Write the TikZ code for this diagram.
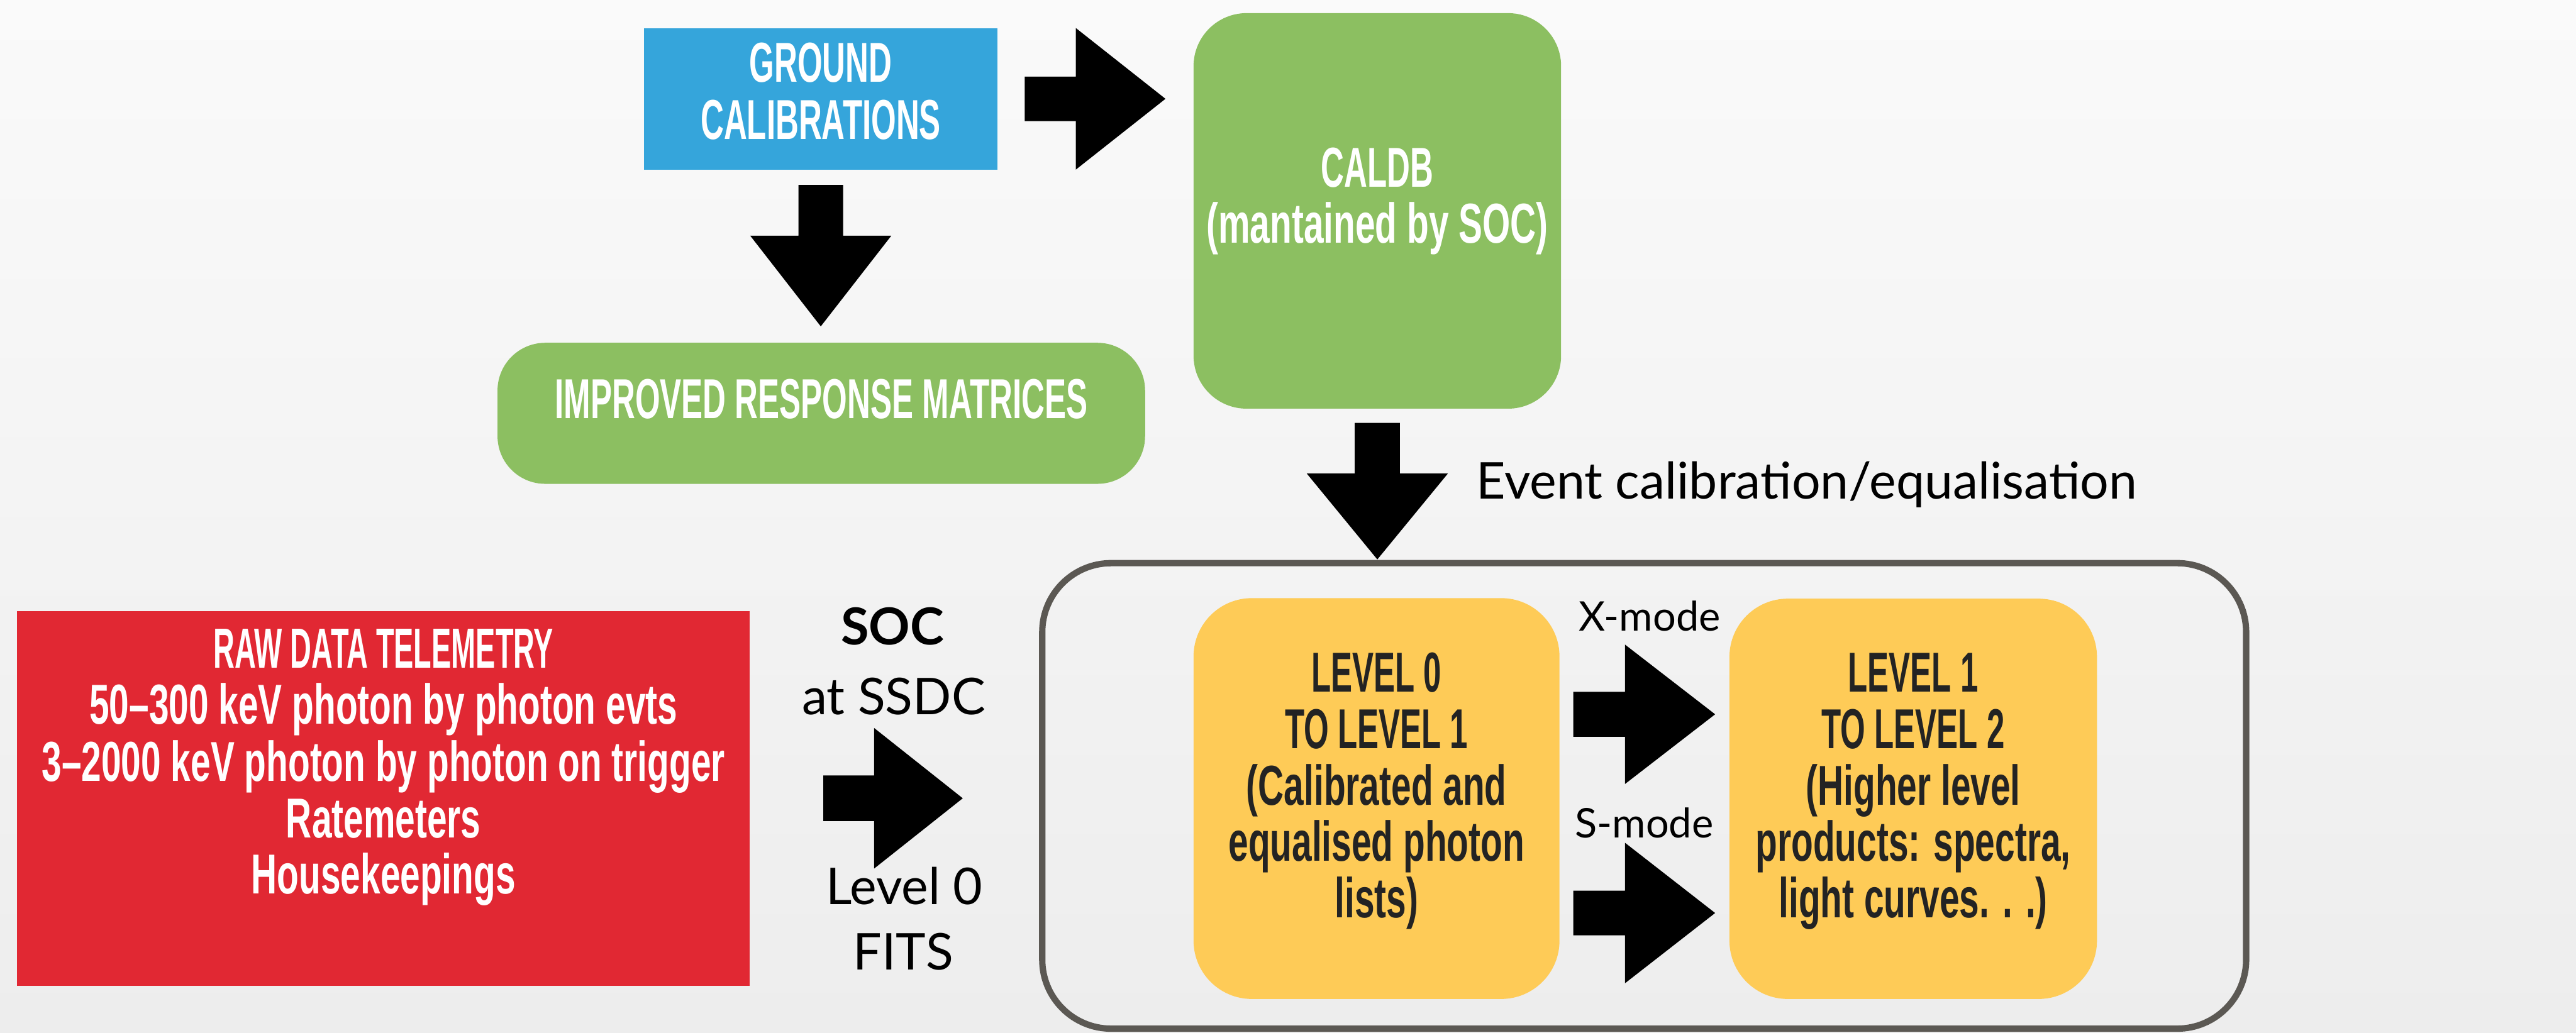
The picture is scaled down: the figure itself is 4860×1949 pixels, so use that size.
\documentclass[tikz,border=0pt]{standalone}
\usepackage{fontspec}
\usetikzlibrary{calc}
\newfontfamily\dinC{Liberation Sans}[FakeStretch=0.57]
\newfontfamily\dinW{Liberation Sans}[FakeStretch=0.52]
\newfontfamily\dinL{Liberation Sans}[FakeStretch=0.635]
\newfontfamily\lblfont{Lato}
\definecolor{bgtop}{HTML}{FAFAFA}
\definecolor{bgbot}{HTML}{EDEDED}
\definecolor{gcblue}{HTML}{35A5DB}
\definecolor{boxgreen}{HTML}{8CBF61}
\definecolor{rawred}{HTML}{E12833}
\definecolor{lvyellow}{HTML}{FECB57}
\definecolor{darktext}{HTML}{232323}
\definecolor{bordergray}{HTML}{5B5853}
\tikzset{
  box/.style={inner sep=0pt, outer sep=0pt, draw=none},
  ln/.style={inner sep=0pt, outer sep=0pt, anchor=base},
  fC/.style={font={\dinC\bfseries\fontsize{30.2pt}{30.2pt}\selectfont}},
  fW/.style={font={\dinW\bfseries\fontsize{30.4pt}{30.4pt}\selectfont}},
  fL/.style={font={\dinL\bfseries\fontsize{30.2pt}{30.2pt}\selectfont}},
  lbl/.style={inner sep=0pt, outer sep=0pt, anchor=base, text=black, font={\lblfont\fontsize{27.2pt}{27.2pt}\selectfont}},
  smalllbl/.style={lbl, font={\lblfont\fontsize{21.9pt}{21.9pt}\selectfont}},
  blockarrow/.style={fill=black, draw=none},
}
\newcommand\harrow[5]{\fill[blockarrow] let \p1=(#1), \p2=(#2) in
  (\x1,\y1+#3) -- (\x2-#5,\y1+#3) -- (\x2-#5,\y1+#4) -- (\x2,\y1) --
  (\x2-#5,\y1-#4) -- (\x2-#5,\y1-#3) -- (\x1,\y1-#3) -- cycle;}
\newcommand\varrow[5]{\fill[blockarrow] let \p1=(#1), \p2=(#2) in
  (\x1+#3,\y1) -- (\x1+#3,\y2+#5) -- (\x1+#4,\y2+#5) -- (\x1,\y2) --
  (\x1-#4,\y2+#5) -- (\x1-#3,\y2+#5) -- (\x1-#3,\y1) -- cycle;}
\begin{document}
\begin{tikzpicture}[x=0.01cm, y=-0.01cm]
\useasboundingbox (0,0) rectangle (4860,1949);
\shade[top color=bgtop, bottom color=bgbot] (0,0) rectangle (4860,1949);

% boxes
\node[box, fill=gcblue, minimum width=6.67cm, minimum height=2.67cm] (gc) at (1548.5,186.5) {};
\node[box, fill=boxgreen, rounded corners=0.9cm, minimum width=12.21cm, minimum height=2.66cm] (irm) at (1549.5,780) {};
\node[box, fill=boxgreen, rounded corners=1.0cm, minimum width=6.93cm, minimum height=7.46cm] (caldb) at (2598.5,398) {};
\node[box, fill=rawred, minimum width=13.81cm, minimum height=7.07cm] (raw) at (723.5,1506.5) {};
\node[box, draw=bordergray, line width=3.4pt, rounded corners=1.3cm, minimum width=22.70cm, minimum height=8.78cm] (big) at (3102,1502) {};
\node[box, fill=lvyellow, rounded corners=1.1cm, minimum width=6.90cm, minimum height=7.56cm] (y1) at (2597,1507) {};
\node[box, fill=lvyellow, rounded corners=1.1cm, minimum width=6.93cm, minimum height=7.55cm] (y2) at (3609.5,1507.5) {};

% box texts
\node[ln, fC, text=white] (gc1) at (1548.5,155) {GROUND};
\node[ln, fC, text=white] (gc2) at (1548.5,263) {CALIBRATIONS};
\node[ln, fC, text=white] (irm1) at (1549.5,790) {IMPROVED RESPONSE MATRICES};
\node[ln, fC, text=white] (cal1) at (2598.5,353) {CALDB};
\node[ln, fL, text=white] (cal2) at (2598.5,459) {(mantained by SOC)};
\node[ln, fW, text=white] (raw1) at (723.5,1261) {RAW DATA TELEMETRY};
\node[ln, fL, text=white] (raw2) at (723.5,1366) {50–300 keV photon by photon evts};
\node[ln, fL, text=white] (raw3) at (723.5,1474) {3–2000 keV photon by photon on trigger};
\node[ln, fL, text=white] (raw4) at (723.5,1581) {Ratemeters};
\node[ln, fL, text=white] (raw5) at (723.5,1687) {Housekeepings};
\node[ln, fC, text=darktext] (ya1) at (2597,1306) {LEVEL 0};
\node[ln, fC, text=darktext] (ya2) at (2597,1412.5) {TO LEVEL 1};
\node[ln, fL, text=darktext] (ya3) at (2597,1519) {(Calibrated and};
\node[ln, fL, text=darktext] (ya4) at (2597,1625.5) {equalised photon};
\node[ln, fL, text=darktext] (ya5) at (2597,1732) {lists)};
\node[ln, fC, text=darktext] (yb1) at (3609.5,1306) {LEVEL 1};
\node[ln, fC, text=darktext] (yb2) at (3609.5,1412.5) {TO LEVEL 2};
\node[ln, fL, text=darktext] (yb3) at (3609.5,1519) {(Higher level};
\node[ln, fL, text=darktext] (yb4) at (3609.5,1625.5) {products: spectra,};
\node[ln, fL, text=darktext] (yb5) at (3609.5,1732) {light curves. . .)};

% labels
\node[lbl, anchor=base west] (evt) at (2785,942) {Event calibration/equalisation};
\node[lbl, font={\lblfont\bfseries\fontsize{27.4pt}{27.4pt}\selectfont}] (soc) at (1684,1217) {SOC};
\node[lbl] (ssdc) at (1686,1348) {at SSDC};
\node[lbl] (lv0) at (1706,1707) {Level 0};
\node[lbl] (fits) at (1704,1830) {FITS};
\node[smalllbl] (xmode) at (3112,1191) {X-mode};
\node[smalllbl] (smode) at (3102,1581) {S-mode};

% block arrows (connectors)
\coordinate (a1s) at ($(gc.east)+(51,0)$);
\coordinate (a1e) at ($(gc.east -| caldb.west)+(-53,0)$);
\harrow{a1s}{a1e}{0.42cm}{1.335cm}{1.69cm}

\coordinate (a2s) at ($(gc.south)+(0,29)$);
\coordinate (a2e) at ($(gc.south |- irm.north)+(0,-31)$);
\varrow{a2s}{a2e}{0.42cm}{1.33cm}{1.71cm}

\coordinate (a3s) at ($(caldb.south)+(0,27)$);
\coordinate (a3e) at ($(caldb.south |- big.north)+(0,-7)$);
\varrow{a3s}{a3e}{0.425cm}{1.33cm}{1.62cm}

\coordinate (a4s) at ($(raw.east)+(139,0)$);
\coordinate (a4e) at ($(raw.east -| big.west)+(-150,0)$);
\harrow{a4s}{a4e}{0.43cm}{1.325cm}{1.67cm}

\coordinate (a5s) at ($(y1.east)+(26,-159)$);
\coordinate (a5e) at ($(y1.east -| y2.west)+(-27,-159)$);
\harrow{a5s}{a5e}{0.425cm}{1.315cm}{1.70cm}

\coordinate (a6s) at ($(y1.east)+(26,216)$);
\coordinate (a6e) at ($(y1.east -| y2.west)+(-27,216)$);
\harrow{a6s}{a6e}{0.42cm}{1.325cm}{1.70cm}
\end{tikzpicture}
\end{document}
